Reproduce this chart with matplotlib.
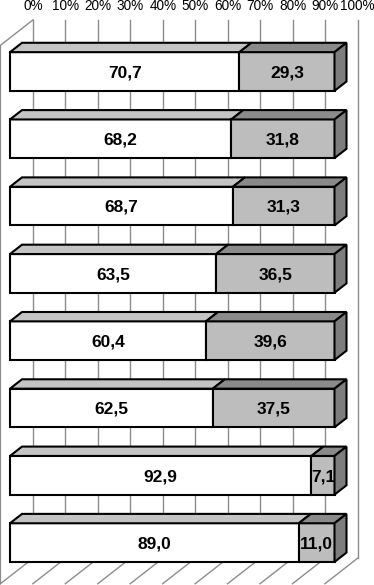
import matplotlib
matplotlib.use("Agg")
import matplotlib.pyplot as plt
from matplotlib.patches import Polygon

plt.rcParams["font.family"] = ["Liberation Sans", "DejaVu Sans"]

# values per bar, top to bottom
first = [70.7, 68.2, 68.7, 63.5, 60.4, 62.5, 92.9, 89.0]
second = [29.3, 31.8, 31.3, 36.5, 39.6, 37.5, 7.1, 11.0]
ticks = [0, 10, 20, 30, 40, 50, 60, 70, 80, 90, 100]

# oblique 3d look: depth z moves right (in %) and up (in rows)
DX = 9.86
DY = -0.371
Z_FRONT = -0.3    # front edge of walls
Z_BAR = 0.375     # bar depth
Z_BACK = 0.72     # back wall
H = 0.575         # bar height in rows
Y_TOP, Y_BOT = -0.5, 7.5

seg1_face, seg1_top = "white", "#c4c4c4"
seg2_face, seg2_top, seg2_side = "#bdbdbd", "#8a8a8a", "#7d7d7d"
grid_col = "#8c8c8c"


def proj(p, y, z):
    return (p + z * DX, y + z * DY)


fig = plt.figure(figsize=(3.74, 5.85), dpi=100)
ax = fig.add_axes([0, 0, 1, 1])
ax.set_xlim(-10 / 3.245, 364 / 3.245)
ax.set_ylim((585 - 71.5) / 67.3, -71.5 / 67.3)
ax.axis("off")

# back wall grid + floor lines
for t in ticks:
    x0, y0 = proj(t, Y_TOP, Z_BACK)
    x1, y1 = proj(t, Y_BOT, Z_BACK)
    ax.plot([x0, x1], [y0, y1], color=grid_col, lw=1.0, zorder=1)
    x2, y2 = proj(t, Y_BOT, Z_FRONT)
    ax.plot([x1, x2], [y1, y2], color=grid_col, lw=1.0, zorder=1)
    ax.text(x0, y0 - 0.1, f"{t}%", ha="center", va="bottom", fontsize=9.8)

# left wall
a = proj(0, Y_TOP, Z_BACK)
b = proj(0, Y_TOP, Z_FRONT)
c = proj(0, Y_BOT, Z_FRONT)
ax.plot([a[0], b[0], c[0]], [a[1], b[1], c[1]], color=grid_col, lw=1.0, zorder=1)


def box(p0, p1, yc, face, top, side=None):
    yt, yb = yc - H / 2, yc + H / 2
    kw = dict(edgecolor="black", lw=1.5, joinstyle="miter", zorder=3)
    ax.add_patch(Polygon([proj(p0, yt, 0), proj(p1, yt, 0), proj(p1, yb, 0),
                          proj(p0, yb, 0)], facecolor=face, **kw))
    ax.add_patch(Polygon([proj(p0, yt, 0), proj(p1, yt, 0), proj(p1, yt, Z_BAR),
                          proj(p0, yt, Z_BAR)], facecolor=top, **kw))
    if side:
        ax.add_patch(Polygon([proj(p1, yt, 0), proj(p1, yt, Z_BAR), proj(p1, yb, Z_BAR),
                              proj(p1, yb, 0)], facecolor=side, **kw))


for i, (v1, v2) in enumerate(zip(first, second)):
    box(0, v1, i, seg1_face, seg1_top)
    box(v1, v1 + v2, i, seg2_face, seg2_top, seg2_side)
    ax.text(v1 / 2, i + 0.02, f"{v1:.1f}".replace(".", ","), ha="center", va="center",
            fontsize=12.5, fontweight="bold", zorder=4)
    ax.text(v1 + v2 / 2, i + 0.02, f"{v2:.1f}".replace(".", ","), ha="center", va="center",
            fontsize=12.5, fontweight="bold", zorder=4)

fig.savefig("out.png", dpi=100)
